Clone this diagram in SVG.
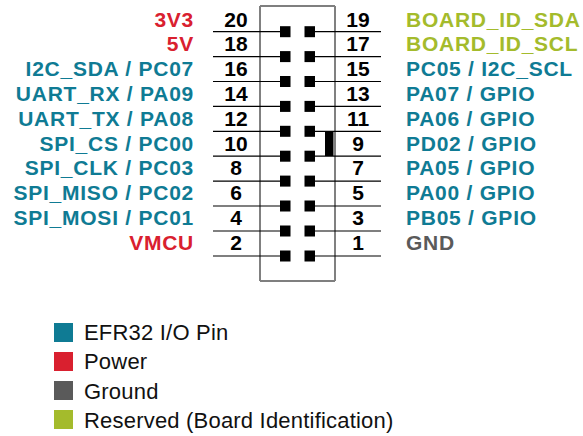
<svg xmlns="http://www.w3.org/2000/svg" width="583" height="436" viewBox="0 0 583 436">
<style>
.lbl{font-family:"Liberation Sans",Arial,sans-serif;font-weight:bold;font-size:21px;letter-spacing:0.75px}
.num{font-family:"Liberation Sans",Arial,sans-serif;font-weight:bold;font-size:21px;fill:#000;text-anchor:middle}
.l{text-anchor:end}
.io{fill:#0f7b94}
.pw{fill:#d9202f}
.gd{fill:#5a5a5a}
.rs{fill:#a4bb2c}
.pin{fill:#000}
.wire{stroke:#000;stroke-width:1.2;fill:none}
.leg{font-family:"Liberation Sans",Arial,sans-serif;font-size:22px;letter-spacing:0.2px;fill:#111}
</style>
<rect width="583" height="436" fill="#fff"/>
<g id="header">
<line x1="260" y1="6" x2="335" y2="6" stroke="#000" stroke-width="1.2"/>
<line x1="260" y1="281" x2="335" y2="281" stroke="#000" stroke-width="1.2"/>
<line x1="260" y1="6" x2="260" y2="281" stroke="#808080" stroke-width="2"/>
<line x1="335" y1="6" x2="335" y2="281" stroke="#808080" stroke-width="2"/>
<rect x="325" y="131" width="8.5" height="25" fill="#000"/>
</g>
<g id="connectors">
<path class="wire" d="M213 31.7H285M310 31.7H381M213 56.6H285M310 56.6H381M213 81.5H285M310 81.5H381M213 106.4H285M310 106.4H381M213 131.3H285M310 131.3H381M213 156.2H285M310 156.2H381M213 181.1H285M310 181.1H381M213 206H285M310 206H381M213 231H285M310 231H381M213 256H285M310 256H381"/>
</g>
<g id="pins" class="pin">
<rect x="280" y="26.2" width="10.5" height="11"/><rect x="304.5" y="26.2" width="10.5" height="11"/>
<rect x="280" y="51.1" width="10.5" height="11"/><rect x="304.5" y="51.1" width="10.5" height="11"/>
<rect x="280" y="76" width="10.5" height="11"/><rect x="304.5" y="76" width="10.5" height="11"/>
<rect x="280" y="100.9" width="10.5" height="11"/><rect x="304.5" y="100.9" width="10.5" height="11"/>
<rect x="280" y="125.8" width="10.5" height="11"/><rect x="304.5" y="125.8" width="10.5" height="11"/>
<rect x="280" y="150.7" width="10.5" height="11"/><rect x="304.5" y="150.7" width="10.5" height="11"/>
<rect x="280" y="175.6" width="10.5" height="11"/><rect x="304.5" y="175.6" width="10.5" height="11"/>
<rect x="280" y="200.5" width="10.5" height="11"/><rect x="304.5" y="200.5" width="10.5" height="11"/>
<rect x="280" y="225.5" width="10.5" height="11"/><rect x="304.5" y="225.5" width="10.5" height="11"/>
<rect x="280" y="250.5" width="10.5" height="11"/><rect x="304.5" y="250.5" width="10.5" height="11"/>
</g>
<g id="row1">
<text class="lbl l pw" x="194" y="26.5">3V3</text><text class="num" x="236" y="26.5">20</text>
<text class="num" x="358" y="26.5">19</text><text class="lbl rs" x="406" y="26.5">BOARD_ID_SDA</text>
</g>
<g id="row2">
<text class="lbl l pw" x="194" y="51.3">5V</text><text class="num" x="236" y="51.3">18</text>
<text class="num" x="358" y="51.3">17</text><text class="lbl rs" x="406" y="51.3">BOARD_ID_SCL</text>
</g>
<g id="row3">
<text class="lbl l io" x="194" y="76.1">I2C_SDA / PC07</text><text class="num" x="236" y="76.1">16</text>
<text class="num" x="358" y="76.1">15</text><text class="lbl io" x="406" y="76.1">PC05 / I2C_SCL</text>
</g>
<g id="row4">
<text class="lbl l io" x="194" y="100.9">UART_RX / PA09</text><text class="num" x="236" y="100.9">14</text>
<text class="num" x="358" y="100.9">13</text><text class="lbl io" x="406" y="100.9">PA07 / GPIO</text>
</g>
<g id="row5">
<text class="lbl l io" x="194" y="125.7">UART_TX / PA08</text><text class="num" x="236" y="125.7">12</text>
<text class="num" x="358" y="125.7">11</text><text class="lbl io" x="406" y="125.7">PA06 / GPIO</text>
</g>
<g id="row6">
<text class="lbl l io" x="194" y="150.5">SPI_CS / PC00</text><text class="num" x="236" y="150.5">10</text>
<text class="num" x="358" y="150.5">9</text><text class="lbl io" x="406" y="150.5">PD02 / GPIO</text>
</g>
<g id="row7">
<text class="lbl l io" x="194" y="175.3">SPI_CLK / PC03</text><text class="num" x="236" y="175.3">8</text>
<text class="num" x="358" y="175.3">7</text><text class="lbl io" x="406" y="175.3">PA05 / GPIO</text>
</g>
<g id="row8">
<text class="lbl l io" x="194" y="200.1">SPI_MISO / PC02</text><text class="num" x="236" y="200.1">6</text>
<text class="num" x="358" y="200.1">5</text><text class="lbl io" x="406" y="200.1">PA00 / GPIO</text>
</g>
<g id="row9">
<text class="lbl l io" x="194" y="224.9">SPI_MOSI / PC01</text><text class="num" x="236" y="224.9">4</text>
<text class="num" x="358" y="224.9">3</text><text class="lbl io" x="406" y="224.9">PB05 / GPIO</text>
</g>
<g id="row10">
<text class="lbl l pw" x="194" y="249.7">VMCU</text><text class="num" x="236" y="249.7">2</text>
<text class="num" x="358" y="249.7">1</text><text class="lbl gd" x="406" y="249.7">GND</text>
</g>
<g id="legend">
<rect x="54" y="323" width="19" height="19" class="io"/><text class="leg" x="84" y="339.5">EFR32 I/O Pin</text>
<rect x="54" y="352" width="19" height="19" class="pw"/><text class="leg" x="84" y="369">Power</text>
<rect x="54" y="381" width="19" height="19" class="gd"/><text class="leg" x="84" y="398.5">Ground</text>
<rect x="54" y="410" width="19" height="19" class="rs"/><text class="leg" x="84" y="428">Reserved (Board Identification)</text>
</g>
</svg>
